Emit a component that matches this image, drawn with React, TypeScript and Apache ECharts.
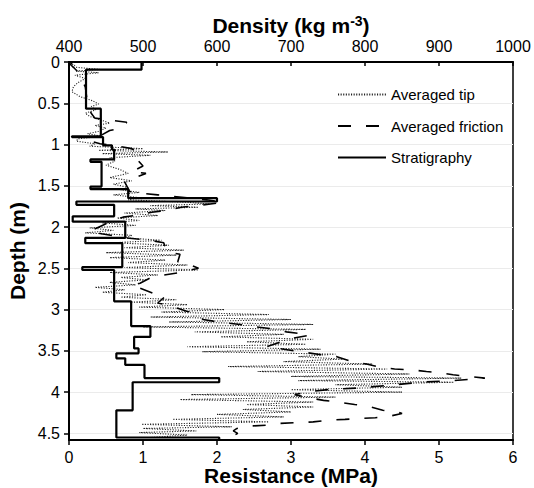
import React, { useEffect, useRef } from "react";
import * as echarts from "echarts";

// Stratigraphy: layer boundaries (m) and layer density (kg m-3)
const layerBounds = [0, 0.093, 0.566, 0.9, 0.91, 1.01, 1.06, 1.18, 1.21, 1.51, 1.54, 1.65, 1.69, 1.73, 1.87, 1.935, 2.13, 2.195, 2.485, 2.52, 2.9, 3.2, 3.33, 3.47, 3.53, 3.59, 3.67, 3.83, 3.88, 4.22, 4.55, 4.58];
const layerDensity = [498, 423, 443, 404, 446, 458, 461, 429, 444, 429, 480, 600, 410, 461, 405, 476, 422, 472, 418, 461, 484, 510, 488, 494, 464, 476, 502, 603, 486, 464, 603];

// Averaged tip resistance: [depth (m), resistance (MPa)]
const tipPoints: [number, number][] = [
  [0.0, 0.06], [0.02, 0.02], [0.04, 0.08], [0.06, 0.04], [0.09, 0.42], [0.11, 0.1], [0.13, 0.4], [0.16, 0.08],
  [0.2, 0.22], [0.25, 0.12], [0.3, 0.06], [0.36, 0.04], [0.42, 0.15], [0.47, 0.32], [0.51, 0.4], [0.54, 0.3],
  [0.58, 0.36], [0.62, 0.22], [0.66, 0.28], [0.7, 0.42], [0.74, 0.55], [0.77, 0.35], [0.8, 0.5], [0.84, 0.4],
  [0.87, 0.25], [0.9, 0.45], [0.93, 0.12], [0.96, 0.1], [0.99, 0.35], [1.02, 0.28], [1.05, 1.0], [1.07, 0.4],
  [1.09, 1.34], [1.11, 0.45], [1.13, 1.1], [1.16, 0.55], [1.2, 0.62], [1.25, 0.5], [1.3, 0.68], [1.35, 0.8],
  [1.4, 0.55], [1.44, 0.85], [1.48, 0.6], [1.52, 0.8], [1.55, 0.7], [1.58, 0.95], [1.61, 0.6], [1.64, 0.92],
  [1.67, 0.8], [1.7, 1.6], [1.72, 1.9], [1.74, 1.1], [1.76, 1.75], [1.78, 0.9], [1.8, 1.3], [1.83, 0.75],
  [1.86, 1.2], [1.89, 0.65], [1.92, 0.95], [1.95, 0.45], [1.98, 0.9], [2.01, 0.28], [2.04, 0.6], [2.07, 0.22],
  [2.1, 0.85], [2.13, 0.75], [2.16, 1.25], [2.19, 0.6], [2.22, 1.35], [2.25, 0.75], [2.28, 1.55], [2.31, 0.5],
  [2.34, 1.45], [2.37, 0.55], [2.4, 1.3], [2.43, 0.8], [2.46, 1.6], [2.49, 0.75], [2.52, 1.75], [2.55, 0.55],
  [2.58, 1.2], [2.61, 0.7], [2.64, 1.05], [2.67, 0.55], [2.7, 0.9], [2.73, 0.35], [2.76, 0.75], [2.79, 0.45],
  [2.82, 1.05], [2.85, 0.7], [2.88, 1.45], [2.91, 0.85], [2.94, 1.6], [2.97, 0.95], [3.0, 2.1], [3.03, 1.25],
  [3.06, 2.7], [3.09, 1.1], [3.12, 3.0], [3.15, 1.35], [3.18, 3.3], [3.21, 1.0], [3.24, 3.2], [3.27, 1.7],
  [3.3, 2.9], [3.33, 2.05], [3.36, 3.3], [3.39, 2.4], [3.42, 3.2], [3.45, 1.6], [3.48, 3.4], [3.51, 1.8],
  [3.54, 3.6], [3.57, 3.1], [3.6, 3.7], [3.63, 2.9], [3.66, 4.1], [3.69, 2.15], [3.72, 4.3], [3.75, 2.55],
  [3.78, 4.6], [3.81, 3.0], [3.83, 5.3], [3.86, 3.1], [3.88, 5.2], [3.91, 3.6], [3.94, 4.5], [3.97, 3.0],
  [4.0, 4.5], [4.03, 1.65], [4.06, 3.6], [4.09, 1.5], [4.12, 3.3], [4.15, 2.4], [4.18, 3.3], [4.21, 2.35],
  [4.24, 3.0], [4.27, 2.0], [4.3, 2.9], [4.33, 1.4], [4.36, 2.7], [4.39, 0.98], [4.42, 2.2], [4.44, 1.0],
  [4.47, 1.72], [4.49, 0.95], [4.52, 1.6], [4.55, 1.1]
];

// Averaged friction: [depth (m), resistance (MPa)]
const frictionPoints: [number, number][] = [
  [0.0, 0.05], [0.03, 0.02], [0.1, 0.1], [0.3, 0.22], [0.5, 0.25], [0.62, 0.3], [0.68, 0.35], [0.71, 0.6],
  [0.73, 0.78], [0.8, 0.72], [0.83, 0.55], [0.88, 0.45], [0.96, 0.3], [0.99, 0.42], [1.02, 0.66], [1.05, 0.85],
  [1.12, 0.95], [1.18, 0.92], [1.26, 1.0], [1.33, 0.85], [1.35, 1.04], [1.45, 0.75], [1.57, 0.82], [1.59, 0.98],
  [1.61, 1.2], [1.63, 1.41], [1.65, 1.63], [1.67, 1.86], [1.7, 2.08], [1.74, 1.74], [1.76, 1.52], [1.8, 1.3],
  [1.82, 1.12], [1.86, 0.89], [1.88, 0.73], [1.92, 0.6], [1.98, 0.45], [2.05, 0.28], [2.08, 0.44], [2.13, 0.75],
  [2.16, 1.09], [2.19, 1.28], [2.3, 1.32], [2.33, 1.5], [2.42, 1.47], [2.44, 1.59], [2.5, 1.75], [2.55, 1.5],
  [2.59, 1.23], [2.62, 1.09], [2.68, 0.96], [2.71, 0.85], [2.74, 0.96], [2.81, 1.16], [2.84, 1.3], [2.92, 1.2],
  [2.95, 1.36], [3.02, 1.59], [3.05, 1.74], [3.12, 1.81], [3.14, 1.95], [3.16, 2.11], [3.18, 2.31], [3.21, 2.54],
  [3.23, 2.72], [3.27, 2.94], [3.29, 3.12], [3.31, 3.25], [3.35, 3.0], [3.41, 2.8], [3.45, 2.67], [3.5, 3.05],
  [3.52, 3.2], [3.55, 3.43], [3.57, 3.62], [3.63, 3.82], [3.66, 4.02], [3.7, 4.22], [3.72, 4.4], [3.73, 4.63],
  [3.75, 4.83], [3.77, 5.05], [3.79, 5.19], [3.83, 5.62], [3.86, 5.2], [3.88, 4.75], [3.92, 4.3], [3.95, 3.9],
  [3.97, 3.5], [3.99, 3.28], [4.03, 3.05], [4.07, 3.25], [4.1, 3.44], [4.12, 3.64], [4.15, 3.86], [4.17, 4.04],
  [4.22, 4.24], [4.24, 4.45], [4.26, 4.5], [4.29, 4.34], [4.31, 4.14], [4.32, 3.93], [4.33, 3.73], [4.34, 3.5],
  [4.36, 3.3], [4.37, 3.08], [4.38, 2.83], [4.4, 2.67], [4.41, 2.47], [4.44, 2.27], [4.47, 2.22], [4.5, 2.28],
  [4.53, 2.22], [4.55, 2.25]
];

const FONT = "'Liberation Sans', Arial, Helvetica, sans-serif";

export default function App() {
  const ref = useRef<HTMLDivElement>(null);
  useEffect(() => {
    if (!ref.current) return;
    const chart = echarts.init(ref.current, undefined, { renderer: "svg" });

    const stratData: [number, number][] = [];
    for (let i = 0; i < layerDensity.length; i++) {
      stratData.push([layerDensity[i], layerBounds[i]]);
      stratData.push([layerDensity[i], layerBounds[i + 1]]);
    }
    const tipData = tipPoints.map(([d, v]) => [v, d]);
    const frictionData = frictionPoints.map(([d, v]) => [v, d]);

    chart.setOption({
      animation: false,
      textStyle: { fontFamily: FONT },
      grid: {
        left: 69, right: 21, top: 62, bottom: 48,
        containLabel: false,
        outerBoundsMode: "none",
        show: true, borderColor: "#000", borderWidth: 1.5, backgroundColor: "transparent",
      },
      legend: {
        orient: "vertical",
        left: 332,
        top: 82,
        itemWidth: 48,
        itemHeight: 14,
        itemGap: 16.5,
        itemStyle: { opacity: 0 },
        textStyle: { fontSize: 15, color: "#000", fontFamily: FONT },
        data: ["Averaged tip", "Averaged friction", "Stratigraphy"],
      },
      xAxis: [
        {
          type: "value",
          position: "bottom",
          min: 0, max: 6, interval: 1,
          name: "Resistance (MPa)",
          nameLocation: "middle",
          nameMoveOverlap: false,
          nameGap: 25,
          nameTextStyle: { fontSize: 21, fontWeight: "bold", color: "#000", fontFamily: FONT },
          axisLine: { show: true, onZero: false, lineStyle: { color: "#000", width: 2 } },
          axisTick: { show: true, length: 5, lineStyle: { color: "#000", width: 1.5 } },
          axisLabel: { fontSize: 16, color: "#000", margin: 9, fontFamily: FONT },
          splitLine: { show: false },
        },
        {
          type: "value",
          position: "top",
          min: 400, max: 1000, interval: 100,
          name: "{a|Density (kg m}{s|-3}{a|)}",
          nameLocation: "middle",
          nameMoveOverlap: false,
          nameGap: 26,
          nameTextStyle: {
            rich: {
              a: { fontSize: 21, fontWeight: "bold", color: "#000", fontFamily: FONT, lineHeight: 22, verticalAlign: "bottom" },
              s: { fontSize: 14, fontWeight: "bold", color: "#000", fontFamily: FONT, lineHeight: 14, verticalAlign: "top" },
            },
          },
          axisLine: { show: true, onZero: false, lineStyle: { color: "#000", width: 2 } },
          axisTick: { show: true, inside: true, length: 4, lineStyle: { color: "#000", width: 1.5 } },
          axisLabel: { fontSize: 16, color: "#000", margin: 8, fontFamily: FONT, formatter: (v: number) => String(v) },
          splitLine: { show: false },
        },
      ],
      yAxis: {
        type: "value",
        inverse: true,
        min: 0, max: 4.58, interval: 0.5,
        name: "Depth (m)",
        nameLocation: "middle",
        nameMoveOverlap: false,
        nameGap: 41,
        nameRotate: 90,
        nameTextStyle: { fontSize: 21, fontWeight: "bold", color: "#000", fontFamily: FONT },
        axisLine: { show: true, onZero: false, lineStyle: { color: "#000", width: 2 } },
        axisTick: { show: true, length: 5, lineStyle: { color: "#000", width: 1.5 } },
        axisLabel: { fontSize: 16, color: "#000", margin: 9, showMaxLabel: false, fontFamily: FONT },
        splitLine: { show: true, lineStyle: { color: "#ebebeb", width: 1 } },
      },
      series: [
        {
          name: "Averaged tip",
          type: "line",
          xAxisIndex: 0,
          data: tipData,
          symbol: "none",
          lineStyle: { color: "#222", width: 1.1, type: [1.1, 1.5] },
          itemStyle: { color: "#222" },
          z: 2,
        },
        {
          name: "Averaged friction",
          type: "line",
          xAxisIndex: 0,
          data: frictionData,
          symbol: "none",
          lineStyle: { color: "#000", width: 1.6, type: [13, 15] },
          itemStyle: { color: "#000" },
          z: 3,
        },
        {
          name: "Stratigraphy",
          type: "line",
          xAxisIndex: 1,
          data: stratData,
          symbol: "none",
          lineStyle: { color: "#000", width: 2.2 },
          itemStyle: { color: "#000" },
          z: 4,
        },
      ],
    });
    return () => chart.dispose();
  }, []);
  return <div ref={ref} style={{ width: 534, height: 488, position: "absolute", left: 0, top: 0 }} />;
}
